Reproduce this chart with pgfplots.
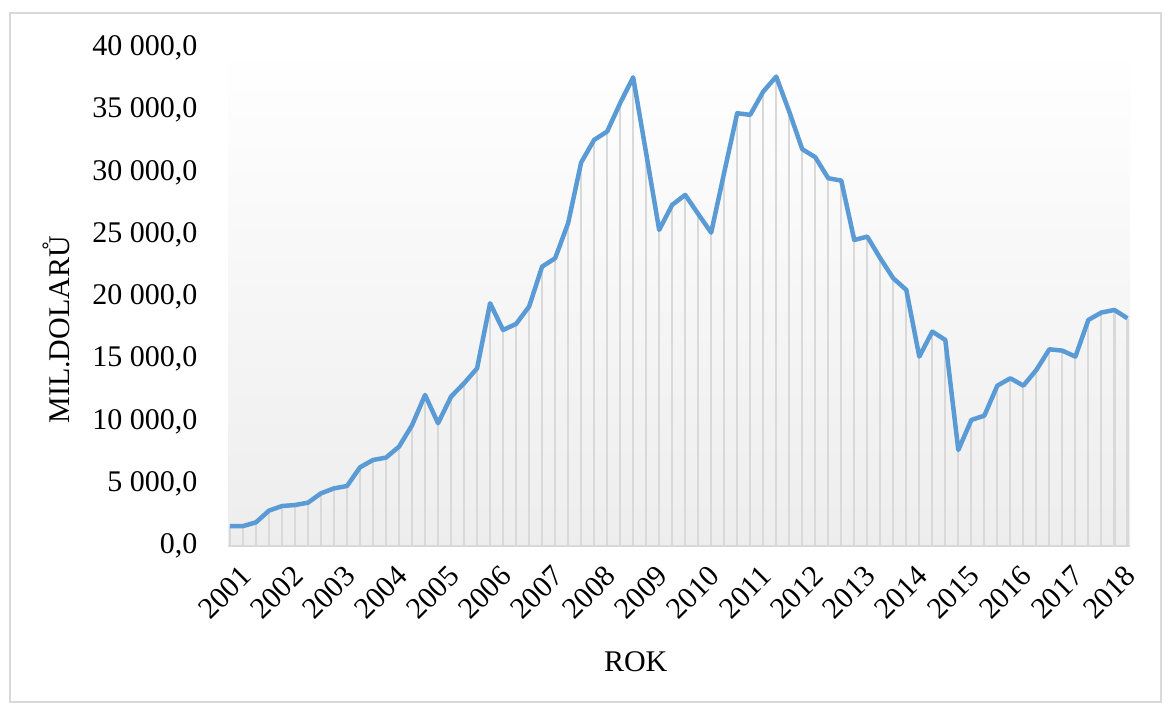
\documentclass[border=0pt]{standalone}
\usepackage{fontspec}
\setmainfont{Liberation Serif}
\usepackage{pgfplots}
\pgfplotsset{compat=1.18}
\usepackage{pgfplotstable}
\definecolor{lineblue}{HTML}{5B9BD5}
\definecolor{dropgray}{HTML}{D9D9D9}
\definecolor{framegray}{HTML}{D9D9D9}

\pgfplotstableread{
q v
0 1600
1 1600
2 1900
3 2840
4 3210
5 3290
6 3480
7 4230
8 4630
9 4820
10 6320
11 6910
12 7100
13 7980
14 9700
15 12130
16 9860
17 12000
18 13070
19 14270
20 19500
21 17350
22 17840
23 19230
24 22440
25 23110
26 25930
27 30800
28 32620
29 33290
30 35570
31 37650
32 31550
33 25390
34 27400
35 28200
36 26670
37 25170
38 30000
39 34760
40 34630
41 36500
42 37700
43 34890
44 31870
45 31230
46 29540
47 29350
48 24580
49 24850
50 23110
51 21500
52 20570
53 15210
54 17220
55 16550
56 7710
57 10120
58 10470
59 12880
60 13470
61 12880
62 14140
63 15800
64 15690
65 15210
66 18160
67 18750
68 18960
69 18290
}\datatable

\begin{document}
\begin{tikzpicture}
\path[use as bounding box] (0,0) rectangle (1172pt,704pt);
\fill[white] (0,0) rectangle (1172pt,704pt);
\draw[framegray, line width=1.5pt] (10pt,2pt) rectangle (1161pt,691pt);
\begin{axis}[
  at={(228pt,158pt)}, anchor=south west,
  scale only axis, width=902pt, height=498pt,
  xmin=-0.15, xmax=69.2,
  ymin=0, ymax=40000,
  axis lines=left,
  axis line style={-},
  y axis line style={draw=none},
  x axis line style={draw=dropgray, line width=2pt},
  major tick length=0pt,
  xtick={0,4,...,68},
  xticklabels={2001,2002,2003,2004,2005,2006,2007,2008,2009,2010,2011,2012,2013,2014,2015,2016,2017,2018},
  ytick={0,5000,...,40000},
  yticklabels={{0,0},{5 000,0},{10 000,0},{15 000,0},{20 000,0},{25 000,0},{30 000,0},{35 000,0},{40 000,0}},
  scaled y ticks=false,
  tick label style={font=\fontsize{30}{34}\selectfont, text=black},
  y tick label style={xshift=-27pt},
  x tick label style={xshift=9pt, yshift=-18pt, rotate=45, anchor=north east, inner sep=0pt},
  label style={font=\fontsize{30}{34}\selectfont},
  ylabel={MIL.DOLARŮ},
  ylabel style={at={(rel axis cs:0,0.434)}, anchor=center, yshift=172pt},
  xlabel={ROK},
  xlabel style={at={(rel axis cs:0.452,0)}, anchor=center, yshift=-116pt},
  axis background/.style={top color=white, bottom color=black!7},
  clip=false,
]
\addplot[ycomb, draw=dropgray, line width=2.2pt, no markers] table[x=q, y=v] {\datatable};
\addplot[lineblue, line width=4.5pt, line join=round, no markers] table[x=q, y=v] {\datatable};
\end{axis}
\end{tikzpicture}
\end{document}
